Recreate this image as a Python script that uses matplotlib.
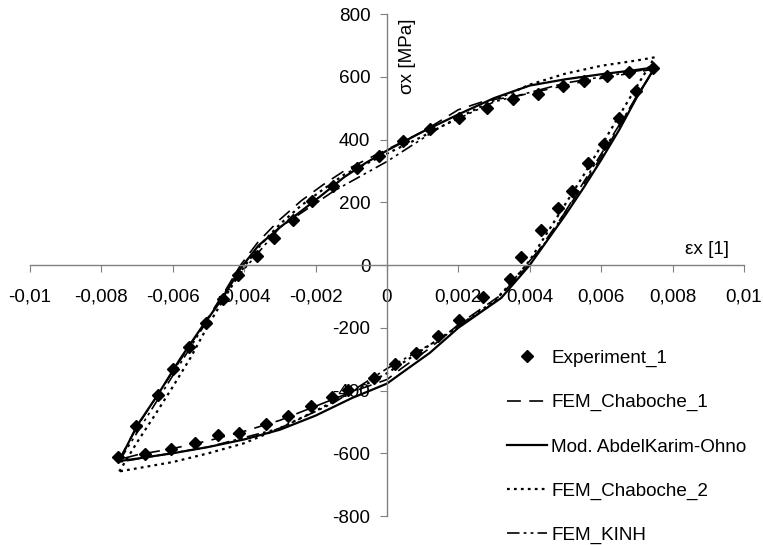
import numpy as np
import matplotlib
matplotlib.use("Agg")
import matplotlib.pyplot as plt
from matplotlib.ticker import FuncFormatter

plt.rcParams['font.family'] = ['Liberation Sans', 'DejaVu Sans']
plt.rcParams['lines.scale_dashes'] = False

# Experiment (hysteresis loop, strain [1], stress [MPa])
exp_strain = [-0.00753, -0.00703, -0.00641, -0.00599, -0.00555, -0.00508, -0.0046, -0.00418,
              -0.00365, -0.00316, -0.00262, -0.00209, -0.00152, -0.00085, -0.00021,
              0.00046, 0.0012, 0.00203, 0.00279, 0.00354, 0.00424, 0.00492, 0.00552, 0.00615, 0.00679, 0.00744,
              0.00698, 0.00651, 0.00608, 0.00564, 0.00517, 0.0048, 0.0043, 0.00374,
              0.00345, 0.0027, 0.00203, 0.00144, 0.00081, 0.00022,
              -0.00036, -0.00108, -0.00155, -0.00214, -0.00276, -0.0034, -0.00414, -0.00473, -0.00538, -0.00606, -0.00678]
exp_stress = [-611, -512, -413, -333, -262, -184, -108, -33,
              28, 87, 145, 203, 251, 310, 347,
              395, 434, 469, 501, 530, 546, 572, 586, 602, 615, 629,
              554, 469, 387, 324, 235, 182, 110, 26,
              -46, -101, -174, -225, -280, -317,
              -360, -397, -420, -450, -482, -506, -535, -543, -567, -586, -601]

# FEM_Chaboche_1
ch1_strain = [-0.0075, -0.007, -0.0064, -0.0058, -0.0052, -0.0046, -0.0041, -0.0036, -0.003, -0.0024, -0.0018,
              -0.0012, -0.0006, 0.0, 0.001, 0.002, 0.0028, 0.0035, 0.0045, 0.0055, 0.0065, 0.0075,
              0.007, 0.0065, 0.006, 0.0055, 0.005, 0.0045, 0.004, 0.0032, 0.002, 0.0012, 0.0004, 0.0,
              -0.001, -0.002, -0.003, -0.004, -0.005, -0.006, -0.007, -0.0075]
ch1_stress = [-620, -515, -410, -305, -200, -95, 0, 75, 145, 205, 255,
              300, 335, 368, 425, 495, 525, 535, 560, 585, 605, 625,
              540, 440, 345, 255, 170, 88, 5, -95, -190, -265, -330, -365,
              -405, -450, -495, -530, -560, -585, -605, -620]

# Mod. AbdelKarim-Ohno
ao_strain = [-0.0075, -0.007, -0.0064, -0.0058, -0.0052, -0.0046, -0.0041, -0.0036, -0.003, -0.0024, -0.0018,
             -0.0012, -0.0006, 0.0, 0.001, 0.002, 0.003, 0.004, 0.005, 0.006, 0.007, 0.0075,
             0.007, 0.0065, 0.006, 0.0055, 0.005, 0.0045, 0.004, 0.0032, 0.002, 0.0012, 0.0004, 0.0,
             -0.001, -0.002, -0.003, -0.004, -0.005, -0.006, -0.007, -0.0075]
ao_stress = [-625, -512, -410, -300, -200, -105, -10, 62, 120, 172, 225,
             280, 325, 365, 425, 480, 532, 572, 592, 608, 622, 630,
             535, 430, 335, 245, 160, 80, 0, -105, -200, -280, -345, -378,
             -425, -480, -525, -556, -580, -600, -617, -625]

# FEM_Chaboche_2
ch2_strain = [-0.0075, -0.007, -0.0065, -0.006, -0.0055, -0.005, -0.0045, -0.004, -0.0035, -0.003, -0.0024,
              -0.0018, -0.0012, -0.0006, 0.0, 0.001, 0.002, 0.003, 0.004, 0.005, 0.006, 0.007, 0.0075,
              0.007, 0.0065, 0.006, 0.0055, 0.005, 0.0045, 0.004, 0.0035, 0.003, 0.002, 0.001, 0.0,
              -0.001, -0.002, -0.003, -0.004, -0.005, -0.006, -0.007, -0.0075]
ch2_stress = [-658, -565, -478, -388, -295, -190, -95, -5, 70, 130, 190,
              240, 288, 322, 355, 410, 470, 525, 575, 610, 635, 652, 662,
              570, 475, 380, 285, 195, 105, 15, -55, -115, -195, -270, -345,
              -405, -465, -520, -568, -600, -628, -648, -658]

# FEM_KINH
kinh_strain = [-0.0075, -0.0045, -0.003, -0.0015, 0.0, 0.0015, 0.003, 0.005, 0.0075,
               0.0045, 0.003, 0.0015, 0.0, -0.0015, -0.003, -0.005, -0.0075]
kinh_stress = [-625, -80, 120, 235, 330, 440, 520, 580, 628,
               80, -120, -235, -330, -440, -520, -580, -628]

fs = 13.6

fig = plt.figure(figsize=(7.63, 5.45), dpi=100)
ax = fig.add_axes([0.0393, 0.0532, 0.9358, 0.9211])

ax.plot(exp_strain, exp_stress, linestyle='none', marker='D', ms=6.5, color='black', label='Experiment_1', zorder=5)
ax.plot(ch1_strain, ch1_stress, color='black', lw=1.2, dashes=(10, 6), label='FEM_Chaboche_1')
ax.plot(ao_strain, ao_stress, color='black', lw=1.6, label='Mod. AbdelKarim-Ohno')
ax.plot(ch2_strain, ch2_stress, color='black', lw=1.6, dashes=(2, 3), label='FEM_Chaboche_2')
ax.plot(kinh_strain, kinh_stress, color='black', lw=1.2, dashes=(9, 3, 2, 3, 2, 3), label='FEM_KINH')

ax.set_xlim(-0.01, 0.01)
ax.set_ylim(-800, 800)
ax.set_xticks(np.linspace(-0.01, 0.01, 11))
ax.set_yticks(np.arange(-800, 801, 200))


def comma_fmt(v, pos):
    v = round(v, 6)
    if v == 0:
        return '0'
    return f"{v:g}".replace('.', ',')


ax.xaxis.set_major_formatter(FuncFormatter(comma_fmt))
ax.yaxis.set_major_formatter(FuncFormatter(lambda v, p: f"{int(round(v))}"))

for side in ['left', 'bottom']:
    ax.spines[side].set_position(('data', 0))
    ax.spines[side].set_color('#808080')
    ax.spines[side].set_linewidth(1.0)
ax.spines['right'].set_visible(False)
ax.spines['top'].set_visible(False)

ax.tick_params(axis='both', direction='out', length=5, color='#808080', labelsize=fs)
ax.tick_params(axis='x', pad=12)
ax.tick_params(axis='y', pad=7)

ax.text(0.00058, 665, 'σx [MPa]', rotation=90, ha='center', va='center', fontsize=fs)
ax.text(0.00896, 51, 'εx [1]', ha='center', va='center', fontsize=fs)

ax.legend(loc='upper left', bbox_to_anchor=(0.668, 0.331), frameon=False, fontsize=fs,
          borderpad=0, borderaxespad=0, handlelength=2.1, handletextpad=0.25, labelspacing=1.42)

fig.savefig('out.png', dpi=100)
